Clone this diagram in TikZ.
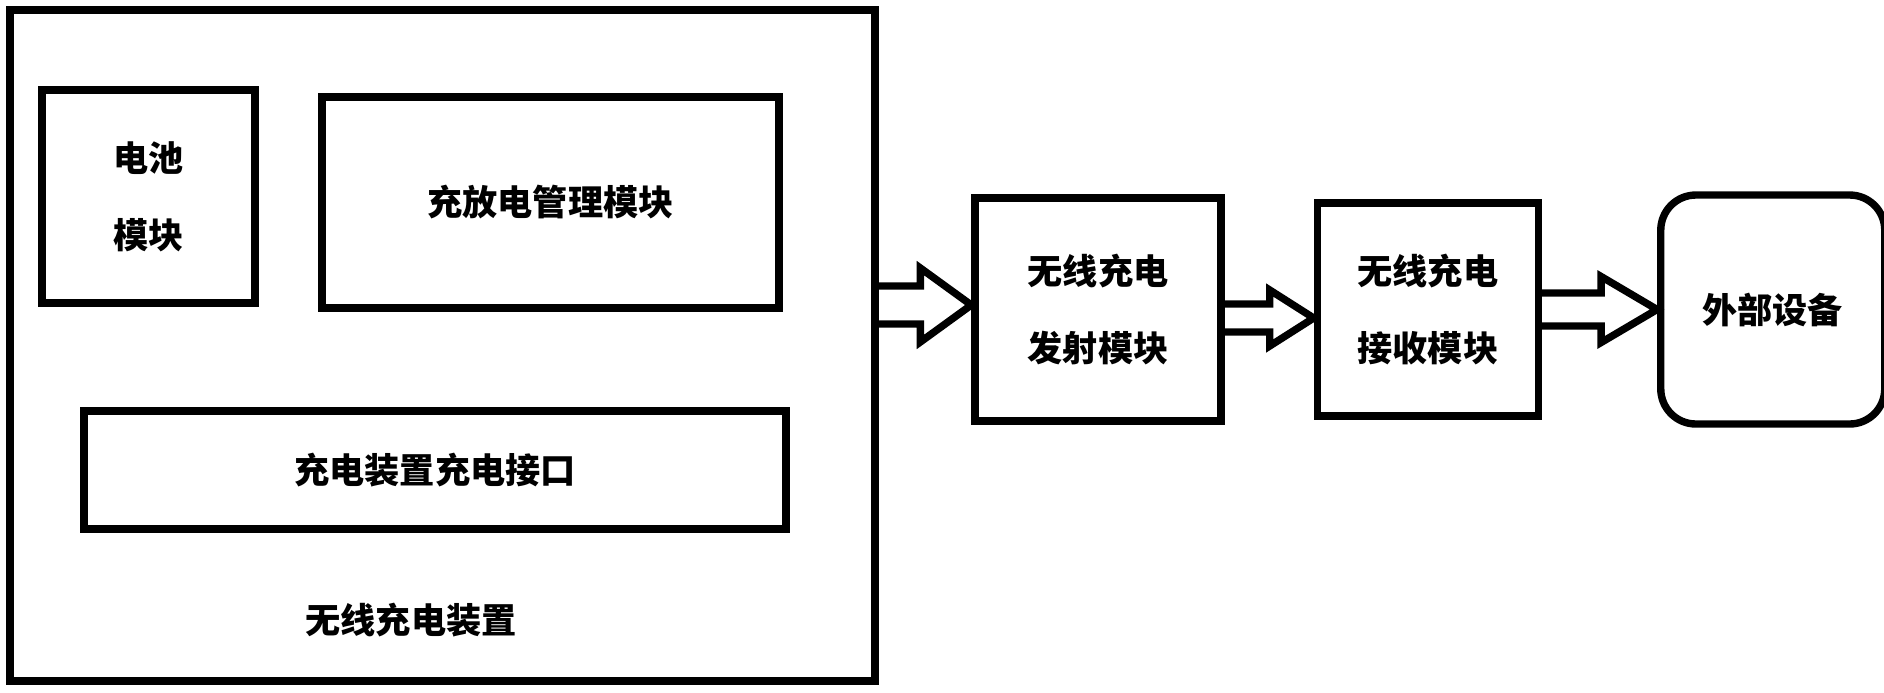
\documentclass[tikz,border=0pt]{standalone}
\usepackage{fontspec}
\usepackage{tikz}
\usetikzlibrary{positioning, calc}
\newfontfamily\cjk{Noto Sans CJK SC}
\tikzstyle{modbox} = [rectangle, draw=black, fill=white, line width=2.1pt, inner sep=0pt,
  align=center, font=\cjk\bfseries\fontsize{10}{22}\selectfont]
\tikzstyle{roundbox} = [modbox, rounded corners=10pt]
\tikzstyle{blockline} = [draw=black, line width=2.1pt, line join=miter]
% block arrow: from, to, shaft half width, head half width, head length, shift
\newcommand{\blockarrow}[6]{%
  \coordinate (bt) at ($(#2.west)+(0,#6)$);
  \coordinate (bs) at (#1.east |- bt);
  \draw[blockline] ($(bs)+(0,#3)$) -- ($(bt)+(-#5,#3)$) -- ($(bt)+(-#5,#4)$) -- (bt)
    -- ($(bt)+(-#5,-#4)$) -- ($(bt)+(-#5,-#3)$) -- ($(bs)+(0,-#3)$);
}

\begin{document}
\begin{tikzpicture}
  \useasboundingbox (0,0) rectangle (18.84,-6.92);

  % === CHARGING DEVICE ===
  \node (dev) [modbox, minimum width=8.65cm, minimum height=6.71cm] at (4.425,-3.455) {};
  \node (bat) [modbox, minimum width=2.13cm, minimum height=2.13cm] at (1.485,-1.965)
    {电池\\模块};
  \node (mgmt) [modbox, minimum width=4.57cm, minimum height=2.11cm] at (5.505,-2.025)
    {充放电管理模块};
  \node (port) [modbox, minimum width=7.02cm, minimum height=1.18cm] at (4.35,-4.70)
    {充电装置充电接口};
  \node (devlabel) [font=\cjk\bfseries\fontsize{10}{22}\selectfont] at (4.11,-6.20)
    {无线充电装置};

  % === WIRELESS LINK ===
  \node (tx) [modbox, minimum width=2.46cm, minimum height=2.23cm] at (10.98,-3.095)
    {无线充电\\发射模块};
  \node (rx) [modbox, right=0.89cm of tx, minimum width=2.21cm, minimum height=2.13cm]
    {无线充电\\接收模块};
  \node (ext) [roundbox, right=1.15cm of rx, minimum width=2.24cm, minimum height=2.29cm]
    {外部设备};

  % === ARROWS ===
  \blockarrow{dev}{tx}{0.19}{0.37}{0.51}{0.045}
  \blockarrow{tx}{rx}{0.14}{0.28}{0.44}{-0.085}
  \blockarrow{rx}{ext}{0.165}{0.33}{0.56}{0}

\end{tikzpicture}
\end{document}
